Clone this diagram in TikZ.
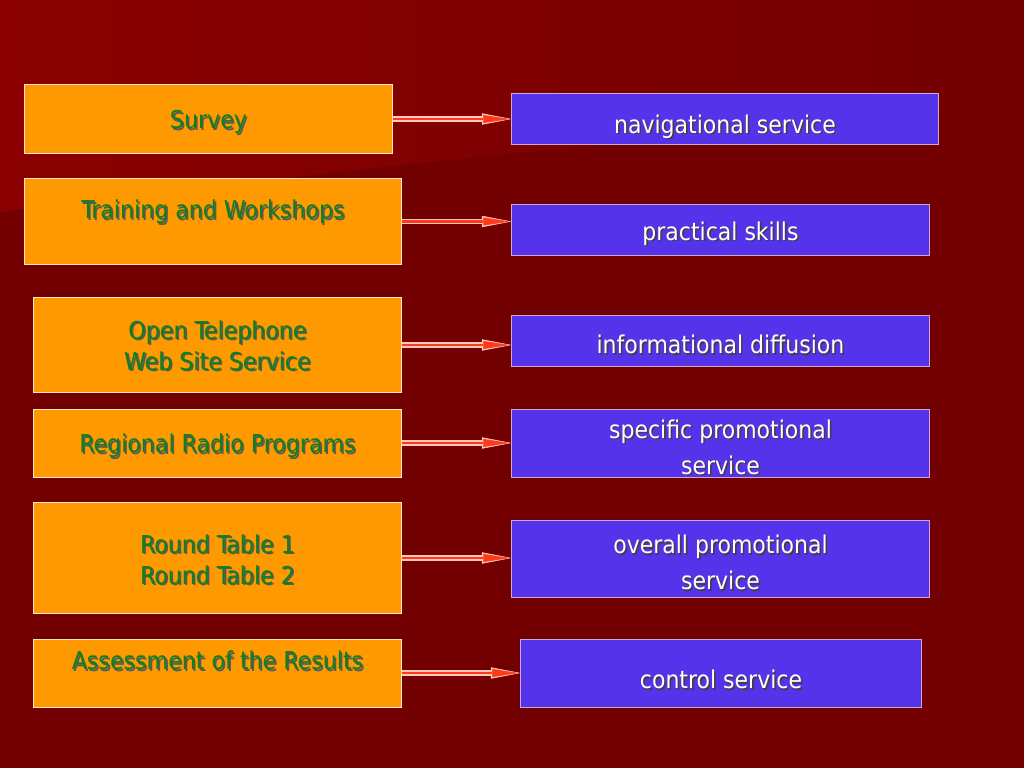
\documentclass[tikz,border=0pt]{standalone}
\usepackage{fontspec}
\setmainfont{DejaVu Sans Condensed}
\usetikzlibrary{arrows.meta}
\definecolor{bgdark}{HTML}{730000}
\definecolor{bglight}{HTML}{8A0000}
\definecolor{boxorange}{HTML}{FF9900}
\definecolor{boxblue}{HTML}{5533EA}
\definecolor{txtgreen}{HTML}{12801A}
\definecolor{arrowred}{HTML}{FF3A1A}
\definecolor{arrowrim}{HTML}{FFC8B8}
\newcommand{\shd}[2]{\makebox[0pt][l]{\hspace{1.1pt}\raisebox{-1.1pt}{\color{#1}#2}}#2}
\tikzset{
  task/.style={draw=orange!20!white, line width=0.7pt, fill=boxorange, text=txtgreen,
    align=center, inner sep=0pt, text height=18.7pt, font=\fontsize{17.5pt}{22pt}\selectfont},
  goal/.style={draw=violet!35!white, line width=0.7pt, fill=boxblue, text=white,
    align=center, inner sep=0pt, text height=18.7pt, font=\fontsize{17.4pt}{25.5pt}\selectfont},
  lift/.style={text depth=#1},
  sink/.style={text height=#1},
  link/.style={line width=3.6pt, draw=arrowrim,
    -{Triangle[length=21pt,width=8pt,line width=0.4pt]},
    postaction={draw=arrowred, line width=1.9pt, shorten >=1.5pt,
      -{Triangle[length=18.5pt,width=5.6pt,line width=0.4pt]}}}
}
\begin{document}
\begin{tikzpicture}[x=0.025cm,y=-0.025cm]
\useasboundingbox (0,0) rectangle (1024,768);
  \fill[bgdark] (0,0) rectangle (1024,768);
  \shade[left color=bglight, right color=bgdark] (0,0) -- (1024,0) -- (1024,110)
    .. controls (600,140) and (300,175) .. (0,212) -- cycle;
% activities
  \node[task, minimum width=9.175cm, minimum height=1.7cm] (sv) at (208.5,119)
    {\shd{black!65}{Survey}};
  \node[task, lift=22.5pt, minimum width=9.4cm, minimum height=2.125cm] (tw) at (213,221.5)
    {\shd{black!65}{Training and Workshops}};
  \node[task, sink=37pt, minimum width=9.175cm, minimum height=2.35cm] (ot) at (217.5,345)
    {\shd{black!65}{Open Telephone}\\ \shd{black!65}{Web Site Service}};
  \node[task, minimum width=9.175cm, minimum height=1.7cm] (rr) at (217.5,443)
    {\shd{black!65}{Regional Radio Programs}};
  \node[task, sink=38.5pt, minimum width=9.175cm, minimum height=2.75cm] (rt) at (217.5,558)
    {\shd{black!65}{Round Table 1}\\ \shd{black!65}{Round Table 2}};
  \node[task, lift=23pt, minimum width=9.175cm, minimum height=1.7cm] (as) at (217.5,673)
    {\shd{black!65}{Assessment of the Results}};
% services
  \node[goal, sink=25.5pt, minimum width=10.65cm, minimum height=1.275cm] (ns) at (725,118.5)
    {\shd{black!75}{navigational service}};
  \node[goal, sink=20pt, minimum width=10.425cm, minimum height=1.275cm] (ps) at (720.5,229.5)
    {\shd{black!75}{practical skills}};
  \node[goal, sink=20pt, minimum width=10.425cm, minimum height=1.275cm] (id) at (720.5,340.5)
    {\shd{black!75}{informational diffusion}};
  \node[goal, sink=45.5pt, minimum width=10.425cm, minimum height=1.7cm] (sp) at (720.5,443)
    {\shd{black!75}{specific promotional}\\ \shd{black!75}{service}};
  \node[goal, sink=45.5pt, minimum width=10.425cm, minimum height=1.925cm] (op) at (720.5,558.5)
    {\shd{black!75}{overall promotional}\\ \shd{black!75}{service}};
  \node[goal, sink=24pt, minimum width=10cm, minimum height=1.7cm] (cs) at (721,673)
    {\shd{black!75}{control service}};
  \foreach \a/\b in {sv/ns,tw/ps,ot/id,rr/sp,rt/op,as/cs}
    \draw[link] (\a.east) -- (\a.east -| \b.west);
\end{tikzpicture}
\end{document}
